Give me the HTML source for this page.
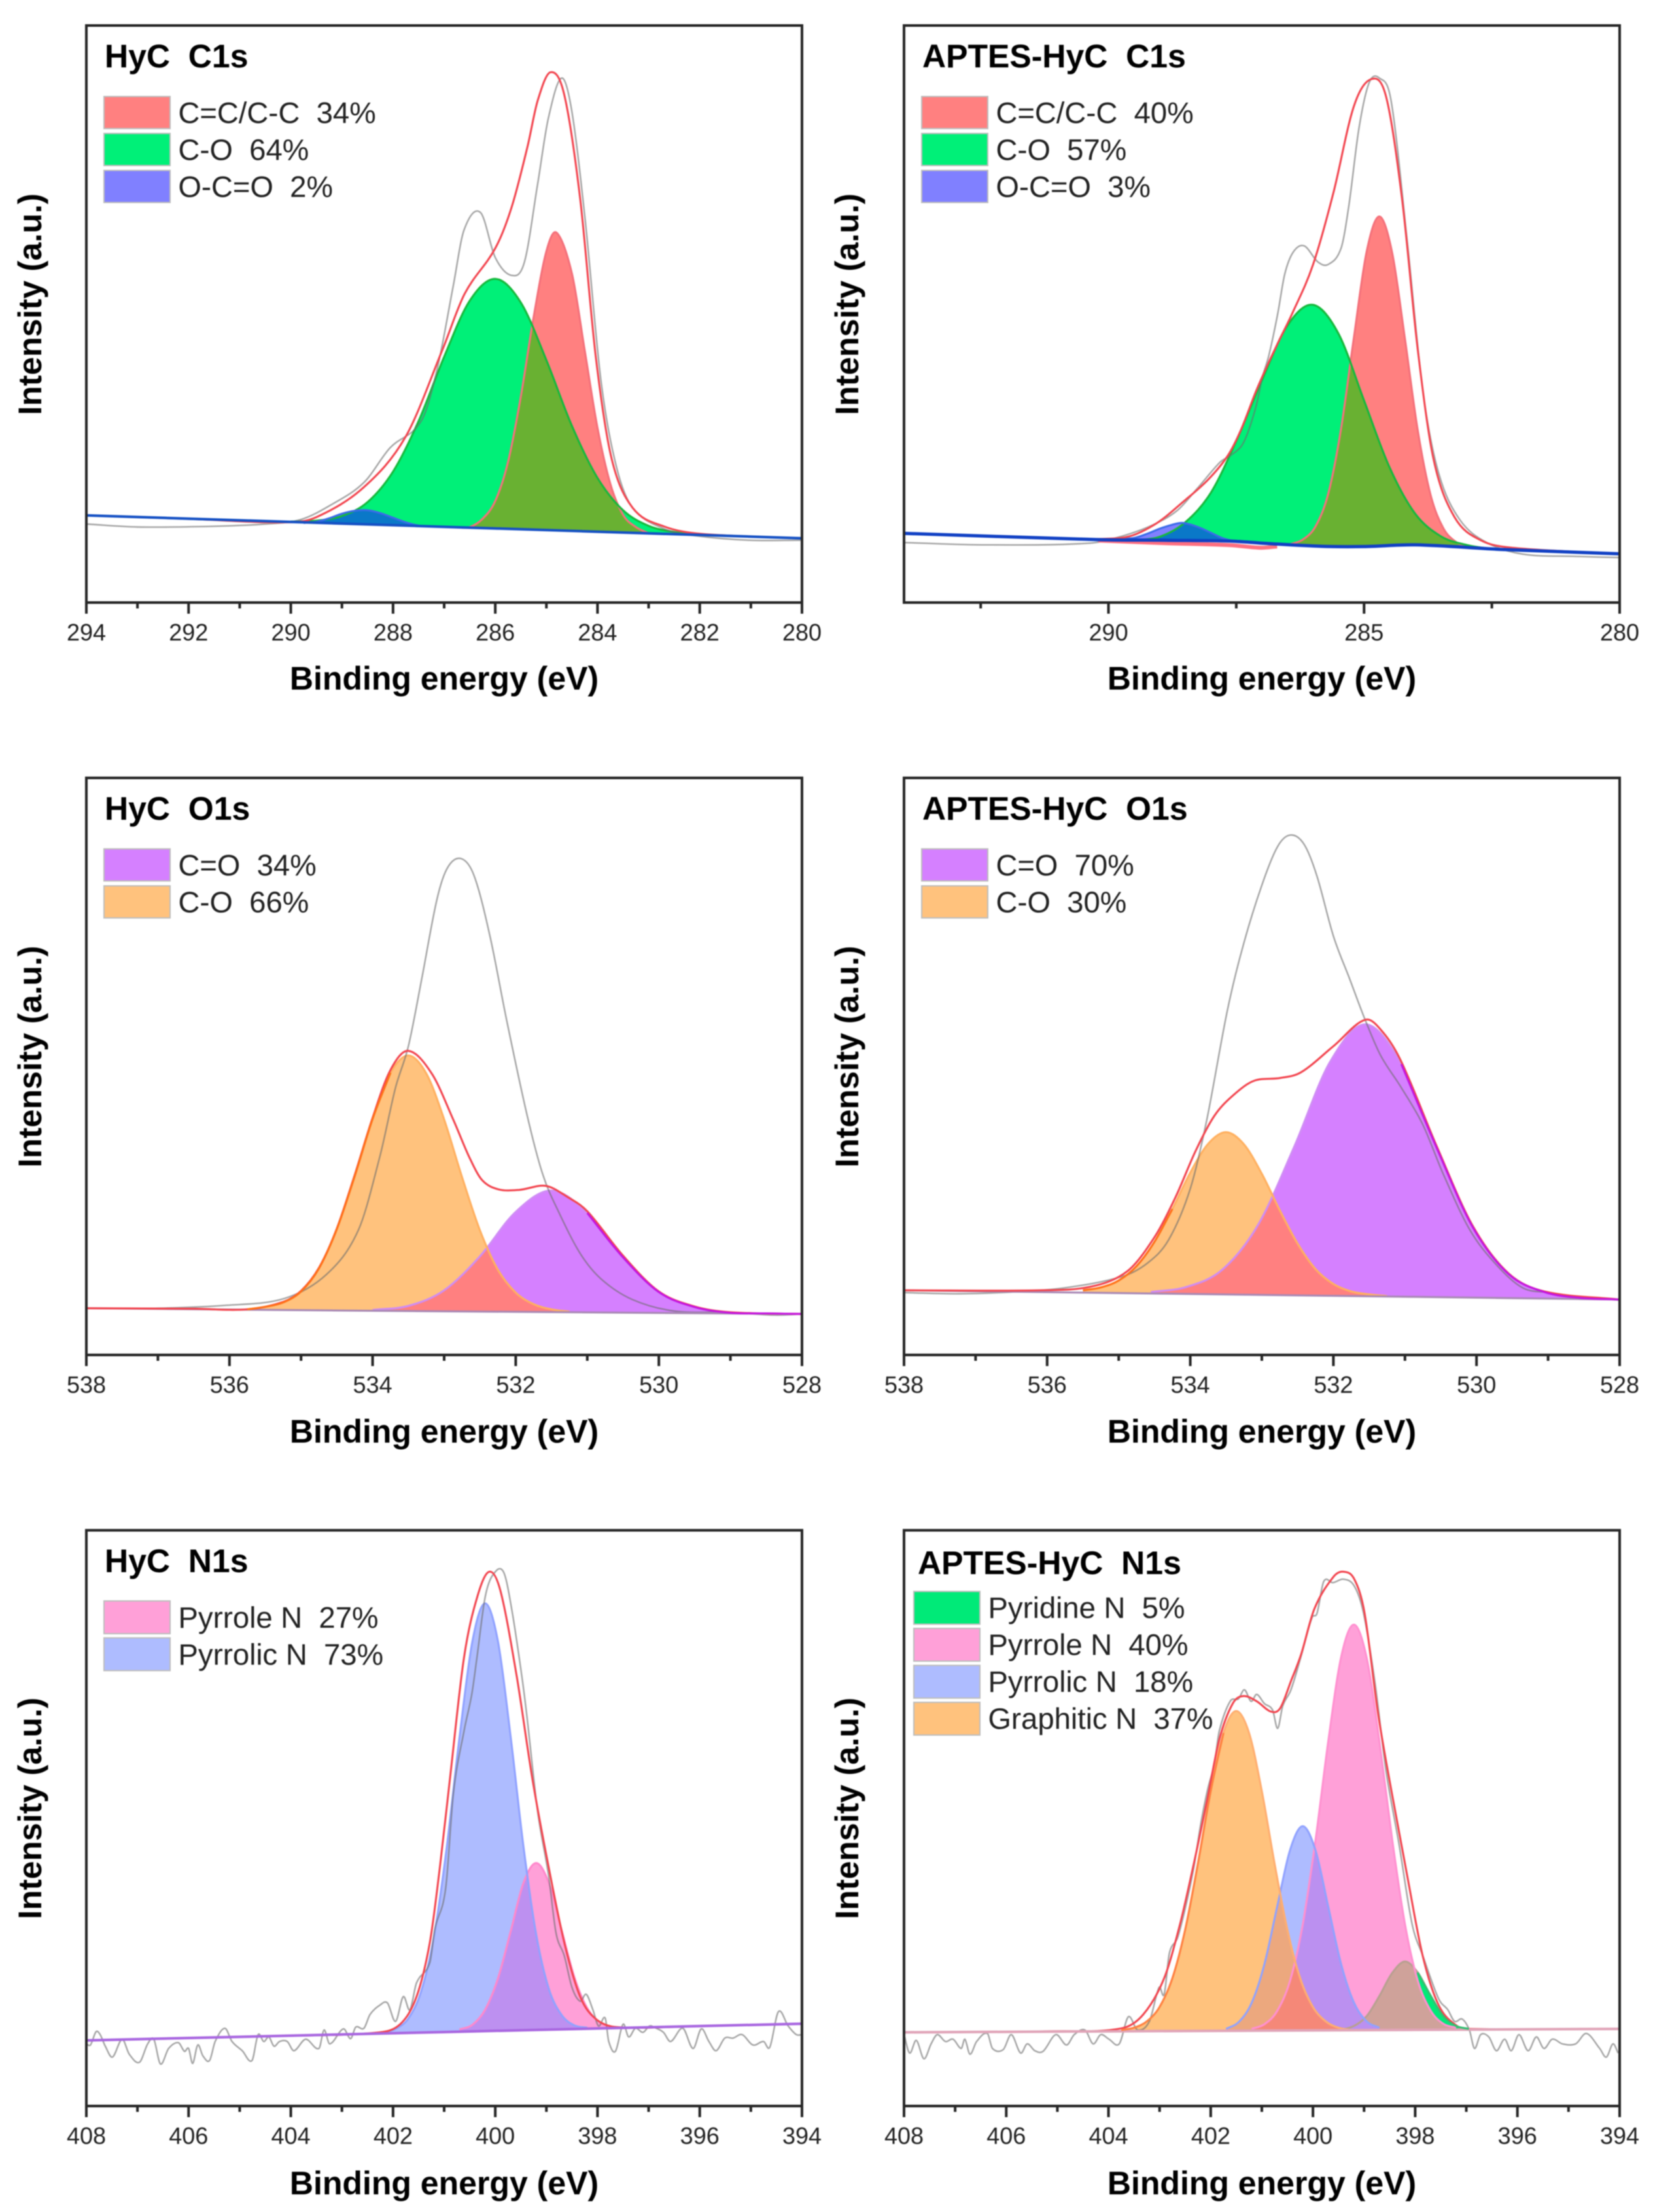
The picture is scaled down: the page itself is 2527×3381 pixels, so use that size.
<!DOCTYPE html>
<html lang="en">
<head>
<meta charset="utf-8">
<title>XPS spectra of HyC and APTES-HyC</title>
<style>
html,body{margin:0;padding:0;background:#fff;}
svg{display:block;filter:blur(0.7px);}
text{font-family:"Liberation Sans",Arial,sans-serif;fill:#1a1a1a;white-space:pre;}
.ttl{font-size:50px;font-weight:bold;fill:#000;}
.leg{font-size:45.5px;fill:#222;}
.axt{font-size:50px;font-weight:bold;fill:#000;text-anchor:middle;}
.tick{font-size:36px;fill:#222;text-anchor:middle;}
.sw{stroke:#bdbdbd;stroke-width:2;}
</style>
</head>
<body>
<svg id="figure" xmlns="http://www.w3.org/2000/svg" width="2527" height="3381" viewBox="0 0 2527 3381">
<rect width="2527" height="3381" fill="#ffffff"/>
<defs id="clip-defs"></defs>

<g id="p1"></g>
<g id="p2"></g>
<g id="p3"></g>
<g id="p4"></g>
<g id="p5"></g>
<g id="p6"></g>

<g>
<text class="ttl" x="160" y="103">HyC  C1s</text>
<rect class="sw" x="159" y="147.5" width="101" height="49" fill="#ff8080"/>
<text class="leg" x="272.5" y="188">C=C/C-C  34%</text>
<rect class="sw" x="159" y="204" width="101" height="49" fill="#00f078"/>
<text class="leg" x="272.5" y="244.5">C-O  64%</text>
<rect class="sw" x="159" y="260.5" width="101" height="49" fill="#8080ff"/>
<text class="leg" x="272.5" y="301">O-C=O  2%</text>
<text class="axt" x="679" y="1054">Binding energy (eV)</text>
<text class="axt" x="63" y="465" transform="rotate(-90 63 465)">Intensity (a.u.)</text>
</g>

<g>
<text class="ttl" x="1410" y="103">APTES-HyC  C1s</text>
<rect class="sw" x="1409" y="147.5" width="101" height="49" fill="#ff8080"/>
<text class="leg" x="1522.5" y="188">C=C/C-C  40%</text>
<rect class="sw" x="1409" y="204" width="101" height="49" fill="#00f078"/>
<text class="leg" x="1522.5" y="244.5">C-O  57%</text>
<rect class="sw" x="1409" y="260.5" width="101" height="49" fill="#8080ff"/>
<text class="leg" x="1522.5" y="301">O-C=O  3%</text>
<text class="axt" x="1929" y="1054">Binding energy (eV)</text>
<text class="axt" x="1312" y="465" transform="rotate(-90 1312 465)">Intensity (a.u.)</text>
</g>

<g>
<text class="ttl" x="160" y="1253">HyC  O1s</text>
<rect class="sw" x="159" y="1297.5" width="101" height="49" fill="#d580ff"/>
<text class="leg" x="272.5" y="1338">C=O  34%</text>
<rect class="sw" x="159" y="1354" width="101" height="49" fill="#ffc27d"/>
<text class="leg" x="272.5" y="1394.5">C-O  66%</text>
<text class="axt" x="679" y="2205">Binding energy (eV)</text>
<text class="axt" x="63" y="1615" transform="rotate(-90 63 1615)">Intensity (a.u.)</text>
</g>

<g>
<text class="ttl" x="1410" y="1253">APTES-HyC  O1s</text>
<rect class="sw" x="1409" y="1297.5" width="101" height="49" fill="#d580ff"/>
<text class="leg" x="1522.5" y="1338">C=O  70%</text>
<rect class="sw" x="1409" y="1354" width="101" height="49" fill="#ffc27d"/>
<text class="leg" x="1522.5" y="1394.5">C-O  30%</text>
<text class="axt" x="1929" y="2205">Binding energy (eV)</text>
<text class="axt" x="1312" y="1615" transform="rotate(-90 1312 1615)">Intensity (a.u.)</text>
</g>

<g>
<text class="ttl" x="160" y="2403">HyC  N1s</text>
<rect class="sw" x="159" y="2447" width="101" height="50" fill="#ffa0d8"/>
<text class="leg" x="272.5" y="2488">Pyrrole N  27%</text>
<rect class="sw" x="159" y="2503.5" width="101" height="50" fill="#aebcff"/>
<text class="leg" x="272.5" y="2544.5">Pyrrolic N  73%</text>
<text class="axt" x="679" y="3354">Binding energy (eV)</text>
<text class="axt" x="63" y="2764" transform="rotate(-90 63 2764)">Intensity (a.u.)</text>
</g>

<g>
<text class="ttl" x="1403" y="2406">APTES-HyC  N1s</text>
<rect class="sw" x="1397" y="2432.5" width="101" height="50" fill="#00ea78"/>
<text class="leg" x="1510.5" y="2473">Pyridine N  5%</text>
<rect class="sw" x="1397" y="2489" width="101" height="50" fill="#ffa0d8"/>
<text class="leg" x="1510.5" y="2529.5">Pyrrole N  40%</text>
<rect class="sw" x="1397" y="2545.5" width="101" height="50" fill="#aebcff"/>
<text class="leg" x="1510.5" y="2586">Pyrrolic N  18%</text>
<rect class="sw" x="1397" y="2602" width="101" height="50" fill="#ffc27d"/>
<text class="leg" x="1510.5" y="2642.5">Graphitic N  37%</text>
<text class="axt" x="1929" y="3354">Binding energy (eV)</text>
<text class="axt" x="1312" y="2764" transform="rotate(-90 1312 2764)">Intensity (a.u.)</text>
</g>
</svg>

<script>
/* ---------- HyC C1s ---------- */
const c1aMajor=[294,292,290,288,286,284,282,280];
const c1aMinor=[293,291,289,287,285,283,281];
const c1aBaseE=[294,280];
const c1aBaseI=[15.1,11.15];
const c1aCcE=[286.75,286.5,286.25,286,285.75,285.5,285.25,285,284.8,284.5,284.25,284,283.75,283.5,283.25,283];
const c1aCcI=[13.0,13.1,14.5,17.6,24.4,35.7,49.5,60.9,64.1,57,43.7,30.3,20.6,15.2,13.1,12.0];
const c1aCoE=[290,289.5,289,288.5,288,287.5,287,286.5,286,285.5,285,284.5,284,283.5,283,282.5,282];
const c1aCoI=[14.05,14.2,15.0,17.4,22.7,31.45,42.6,52.3,56.1,52,42,30.6,21.6,16,13.3,12.25,11.8];
const c1aOcoE=[289.75,289.5,289.25,289,288.75,288.5,288.25,288,287.75,287.5,287.25];
const c1aOcoI=[13.8,14.0,14.6,15.4,15.9,16.0,15.5,14.7,13.9,13.35,13.2];
const c1aFitE=[294,292,290.07,289.5,288.57,287.75,287.03,286.6,286,285.68,285.37,285.17,284.92,284.65,284.34,284.03,283.72,283.31,282.7,281.97,280];
const c1aFitI=[15.1,14.5,13.9,14.8,20,28.8,43.9,53.5,61.4,68.5,79,87,91.9,88,70,42.3,24.8,16.4,13.2,11.9,11.15];
const c1aRawE=[294,293,291.57,290.5,289.8,289.2,288.57,288.06,287.44,287.13,286.82,286.61,286.29,286,285.68,285.43,285.17,284.96,284.7,284.5,284.24,283.93,283.62,283.31,282.7,282.1,281.04,280];
const c1aRawI=[13.6,13.1,13.2,13.6,14.4,17,20.8,26.8,31.6,40.7,55,64.6,67.6,59.8,56.7,59,72.6,84,90.9,85,66.2,38.3,23.2,16.4,12.8,11.6,10.8,10.8];

/* ---------- APTES-HyC C1s ---------- */
const c1bMajor=[290,285,280];
const c1bMinor=[292.5,287.5,282.5];
const c1bBaseE=[294,290.19,288.9,287.63,287,285.83,285,284,282.3,280];
const c1bBaseI=[12,10.9,10.8,10.66,10.3,9.75,9.7,10,9.2,8.45];
const c1bLowerE=[290.2,288.9,287.63,287.03,286.7];
const c1bLowerI=[10.75,10.3,9.95,9.5,9.7];
const c1bCcE=[286.45,286.2,285.95,285.7,285.45,285.2,284.95,284.7,284.45,284.2,283.95,283.7,283.45,283.2,282.95];
const c1bCcI=[10.1,10.9,13.2,18.9,30.1,45.9,60.8,66.9,60.6,45.7,29.9,18.7,12.9,10.5,9.6];
const c1bCoE=[289.5,289,288.5,288,287.5,287,286.5,286,285.5,285,284.5,284,283.5,283,282.5,282];
const c1bCoI=[10.8,11.4,13.9,19,28,38.5,48,51.6,46.6,35,23.4,15.4,11.5,10,9.3,9];
const c1bOcoE=[290,289.5,289.25,289,288.75,288.55,288.25,288,287.75,287.5,287.25];
const c1bOcoI=[10.9,11.2,11.9,12.8,13.5,13.8,13.1,12.1,11.1,10.6,10.4];
const c1bFitE=[294,292,289.76,289.12,288.48,288.05,287.67,287.41,287.11,286.86,286.64,286.41,286,285.6,285.2,284.86,284.57,284.26,283.95,283.64,283.23,282.72,282.1,280];
const c1bFitI=[12,11.4,11.2,13.4,17.9,21.3,25.4,29.9,36.7,41.7,45.8,50,58.5,71,86,90.7,87.7,70.2,43.9,24.8,14.8,10.8,9.5,8.45];
const c1bRawE=[294,292.4,290.36,289.74,289.12,288.65,288.27,287.82,287.63,287.41,287.28,287.11,286.99,286.86,286.69,286.55,286.38,286.17,285.9,285.7,285.45,285.3,285.1,284.9,284.7,284.47,284.16,283.85,283.54,283.13,282.6,281.9,280.87,280];
const c1bRawI=[10.4,10,10.3,11.5,13.5,16,19.7,24.3,25.4,27,29.3,34.1,39,42.9,50,57,60.8,61.8,59,58.6,61.4,68.6,82.2,90.1,90.9,86.9,63,36.7,22.4,14.4,10.4,8.4,8,7.8];

/* ---------- HyC O1s ---------- */
const o1aMajor=[538,536,534,532,530,528];
const o1aMinor=[537,535,533,531,529];
const o1aBaseE=[538,534,528];
const o1aBaseI=[8.1,7.65,7.1];
const o1aPurpleE=[534,533.5,533,532.5,532,531.5,531,530.5,530,529.5,529,528.5,528];
const o1aPurpleI=[7.8,8.5,11.2,17.1,24.8,28.5,24.6,16.9,10.9,8.3,7.3,7.2,7.1];
const o1aOrangeE=[535.75,535.5,535.25,535,534.75,534.5,534.25,534,533.75,533.5,533.25,533,532.75,532.5,532.25,532,531.75,531.5,531.25];
const o1aOrangeI=[7.9,8.35,9.1,11,15,21.8,31,40.9,48.9,51.9,48.8,40.8,30.8,21.6,14.8,10.8,8.8,7.9,7.5];
const o1aFitE=[538,536.5,535.75,535.25,535,534.75,534.5,534.25,534,533.75,533.5,533.17,532.87,532.65,532.47,532.24,531.95,531.58,531.28,531,530.5,530,529.5,529,528];
const o1aFitI=[8.1,8,7.9,9.2,11.1,15.1,21.9,31.2,41.1,49.4,52.7,48.7,40.7,34.3,30.3,28.7,28.6,29.3,27.4,24.9,17.2,11,8.4,7.4,7.1];
const o1aRawE=[538,537,536.04,535.23,534.64,534.2,533.9,533.68,533.5,533.31,533.1,532.95,532.76,532.58,532.36,532.13,531.84,531.62,531.4,531.1,530.81,530.37,529.78,529.04,528.38,528];
const o1aRawI=[8.1,8.1,8.6,9.8,14,21.6,34.3,46.3,53.5,65.4,79,84.5,86,83,72.6,58.2,41.5,31.2,24.8,17.6,13.2,9.6,7.6,7.4,6.9,7.1];

/* ---------- APTES-HyC O1s ---------- */
const o1bMajor=[538,536,534,532,530,528];
const o1bMinor=[537,535,533,531,529];
const o1bBaseE=[538,528];
const o1bBaseI=[11.2,9.6];
const o1bPurpleE=[534.55,534.05,533.55,533.05,532.55,532.05,531.55,531.05,530.55,530.05,529.55,529.05,528.55,528];
const o1bPurpleI=[10.9,11.8,14.8,22.6,36,50.7,57.3,50.4,35.7,22.1,14,10.9,9.9,9.6];
const o1bOrangeE=[535.5,535.25,535,534.75,534.5,534.25,534,533.75,533.5,533.25,533,532.75,532.5,532.25,532,531.75,531.5,531.25];
const o1bOrangeI=[11.2,11.7,12.9,15.4,19.6,25.3,31.6,36.6,38.6,36.5,31.4,25.1,19.3,14.9,12.3,11.0,10.5,10.2];
const o1bFitE=[538,536.13,535.4,534.88,534.5,534.2,533.92,533.66,533.4,533.11,532.74,532.45,532,531.55,531.3,531.05,530.55,530.05,529.55,529.05,528];
const o1bFitI=[11.2,11.2,11.8,14.5,20.4,27.5,35.5,41.5,45,47.5,48,49,53.5,58.1,55.8,50.8,36,22.3,14.1,11,9.6];
const o1bRawE=[538,537.24,536.5,535.77,534.95,534.59,534.3,534,533.77,533.48,533.26,533,532.78,532.6,532.41,532.23,532,531.78,531.56,531.34,531.05,530.75,530.46,530.09,529.72,529.35,528.98,528.54,528];
const o1bRawI=[10.8,10.6,10.9,11.6,13.6,16,20,28.8,40.7,59.8,71,81.4,88.1,90.1,88.5,83,72.6,65.4,58.2,51.9,46.3,39.9,31.2,21.6,15.6,11.6,10.8,10,9.5];

/* ---------- HyC N1s ---------- */
const n1aMajor=[408,406,404,402,400,398,396,394];
const n1aMinor=[407,405,403,401,399,397,395];
const n1aBaseE=[408,394];
const n1aBaseI=[11.4,14.3];
const n1aPyrroleE=[400.7,400.45,400.2,399.95,399.7,399.45,399.2,398.95,398.7,398.45,398.2,397.95,397.7,397.45];
const n1aPyrroleI=[13.3,14.1,16.7,22.1,30.3,38.7,42.2,38.7,30.5,22.3,17,14.5,13.7,13.5];
const n1aPyrrolicE=[402.2,401.95,401.7,401.45,401.2,400.95,400.7,400.45,400.2,399.95,399.7,399.45,399.2,398.95,398.7,398.45,398.2];
const n1aPyrrolicI=[12.7,13.4,15.2,19.9,29.4,44.9,64,80.6,87.3,80.8,64.2,45.2,29.8,20.3,15.8,14,13.6];
const n1aFitE=[408,404,402.26,401.85,401.54,401.28,401.08,400.87,400.61,400.35,400.12,399.9,399.58,399.27,398.96,398.65,398.34,398.03,397.62,396,394];
const n1aFitI=[11.4,12.2,12.8,14.3,19,28.4,41.7,58.2,78,88.5,92.8,89.5,74.6,56.6,41.7,28.4,19,15.1,13.7,13.9,14.3];
const n1aRawE=[408,407.92,407.81,407.73,407.63,407.49,407.30,407.16,406.96,406.80,406.68,406.55,406.39,406.20,406.08,406.00,405.92,405.82,405.72,405.59,405.48,405.29,405.15,404.95,404.76,404.64,404.53,404.43,404.33,404.22,404.07,403.94,403.71,403.45,403.35,403.24,402.97,402.83,402.73,402.57,402.45,402.26,402.11,401.95,401.80,401.67,401.54,401.28,401.18,400.97,400.82,400.61,400.46,400.36,400.20,400.05,399.84,399.68,399.48,399.38,399.17,398.96,398.81,398.65,398.50,398.34,398.22,398.09,397.98,397.85,397.78,397.65,397.50,397.39,397.26,397.11,396.98,396.85,396.71,396.57,396.33,396.13,395.97,395.82,395.68,395.51,395.35,395.17,394.96,394.75,394.63,394.46,394.27,394.11,394];
const n1aRawI=[10.8,10.6,12.9,12.4,10.4,8.5,11.6,9,7.6,10.8,11.6,7.3,10,11,9.5,10,7.4,10.6,8.7,7.9,11.2,13.5,11.2,9.6,7.9,12.4,11.2,12,10.4,11.2,11.2,9.6,11.6,10,13.2,10.8,13.4,11.7,13.7,13.5,15.9,17.5,17.9,14.7,19,16.7,21.4,24.9,30.8,37.8,54.3,65.2,71.5,77.8,88.3,92.2,92.8,86.4,74.6,67.6,51.1,40.2,30,26.1,20.6,18.2,19.4,16.7,13.9,15.3,11.2,9.5,14.2,12,13.5,12.8,13.9,13.5,12.8,11.2,13.5,10,13.4,11.2,9.6,11.8,11.8,12.4,10.6,11.2,10.2,16.4,13.9,12.4,12.4];

/* ---------- APTES-HyC N1s ---------- */
const n1bMajor=[408,406,404,402,400,398,396,394];
const n1bMinor=[407,405,403,401,399,397,395];
const n1bBaseE=[408,394];
const n1bBaseI=[12.8,13.4];
const n1bGraphiticE=[403.75,403.5,403.25,403,402.75,402.5,402.25,402,401.75,401.5,401.25,401,400.75,400.5,400.25,400,399.75,399.5,399.25];
const n1bGraphiticI=[13.2,13.6,14.7,17.2,22.2,30.6,42.1,54.7,64.8,68.6,64.8,54.7,42.1,30.6,22.2,17.2,14.7,13.6,13.2];
const n1bPyrrolicE=[401.7,401.45,401.2,400.95,400.7,400.45,400.2,399.95,399.7,399.45,399.2,398.95,398.7];
const n1bPyrrolicI=[13.4,14.6,17.9,24.6,34.6,44.4,48.6,44.4,34.6,24.7,18,14.7,13.6];
const n1bPyrroleE=[401.2,400.95,400.7,400.45,400.2,399.95,399.7,399.45,399.2,398.95,398.7,398.45,398.2,397.95,397.7,397.45,397.2];
const n1bPyrroleI=[13.4,14.2,16.5,21.7,31.5,46.2,63.4,77.9,83.6,77.9,63.4,46.3,31.6,21.8,16.6,14.3,13.6];
const n1bPyridineE=[399.45,399.2,398.95,398.7,398.45,398.2,397.95,397.7,397.45,397.2,396.95];
const n1bPyridineI=[13.2,13.9,15.6,19.1,23.1,25.1,23.2,19.2,15.6,13.9,13.4];
const n1bFitE=[408,405,403.74,403.32,402.91,402.6,402.34,402.08,401.83,401.57,401.36,401.1,400.82,400.64,400.43,400.23,399.97,399.6,399.4,399.19,398.99,398.73,398.47,398.16,397.85,397.54,397.18,396.92,394];
const n1bFitI=[12.8,13,13.5,15.9,22.2,31.6,41.7,52.7,63.7,69.9,71.2,70.3,68.5,69.1,73.8,78.5,86.4,91.9,92.8,91.5,85.6,68.4,55,40.2,26,17.5,13.9,13.4,13.4];
const n1bRawE=[408,407.89,407.76,407.61,407.47,407.35,407.19,407.04,406.88,406.81,406.71,406.58,406.37,406.27,406.06,405.90,405.72,405.59,405.44,405.28,405.03,404.82,404.67,404.46,404.30,404.15,403.99,403.79,403.61,403.43,403.20,403.01,402.91,402.81,402.65,402.50,402.34,402.19,402.06,401.93,401.83,401.62,401.46,401.34,401.21,401.10,400.95,400.79,400.69,400.59,400.43,400.23,400.02,399.92,399.79,399.61,399.40,399.19,399.01,398.78,398.57,398.32,398.06,397.85,397.54,397.36,397.23,397.08,396.94,396.84,396.72,396.56,396.41,396.25,396.12,395.97,395.79,395.63,395.48,395.32,395.12,394.86,394.65,394.39,394.26,394.13,394.03];
const n1bRawI=[12.4,9.2,11.4,8.2,10.8,12.4,11.2,11.6,10,11.6,9,11.2,12.6,10,9.8,12.4,9.2,10.8,9.6,9.5,12.4,10.6,12.4,13.2,10.8,12.4,11.6,10.8,15.5,13.2,14.7,20.6,19.4,26.5,29.2,34.3,41,49.2,55,59.4,65.2,70.3,70.7,72.3,70.3,71.5,69.9,68.8,65.6,69.5,72.3,78.2,84.8,85.6,91.1,90.9,91.5,90.3,85.6,73.1,58.2,45.7,31.6,26.1,18.6,16.7,14.7,15.1,13.2,10,12.4,12,9.6,11.6,9.6,12.4,9.6,12,10,11.6,10.8,10.8,12.6,10,8.5,10.8,9.2];

/* ---------- drawing ---------- */
const NS='http://www.w3.org/2000/svg';
let clipCount=0;

function make(tag,parent,name,props){
  const el=document.createElementNS(NS,tag);
  
  
  for(const k in props){el.setAttribute(k,props[k]);}
  parent.appendChild(el);
  return el;
}
function lerp(es,is,e){
  for(let i=0;i<es.length-1;i++){
    if(e<=es[i]&&e>=es[i+1]){
      const t=(es[i]-e)/(es[i]-es[i+1]);
      return is[i]+t*(is[i+1]-is[i]);
    }
  }
  return e>es[0]?is[0]:is[is.length-1];
}
function smooth(pts){
  const n=pts.length;
  const slope=i=>{
    const a=pts[Math.max(i-1,0)],b=pts[Math.min(i+1,n-1)];
    return (b[1]-a[1])/(b[0]-a[0]);
  };
  let d='M'+pts[0][0].toFixed(1)+' '+pts[0][1].toFixed(1);
  for(let i=0;i<n-1;i++){
    const p1=pts[i],p2=pts[i+1],h=(p2[0]-p1[0])/3;
    const c1x=p1[0]+h,c1y=p1[1]+slope(i)*h;
    const c2x=p2[0]-h,c2y=p2[1]-slope(i+1)*h;
    d+=' C'+c1x.toFixed(1)+' '+c1y.toFixed(1)+' '+c2x.toFixed(1)+' '+c2y.toFixed(1)+' '+p2[0].toFixed(1)+' '+p2[1].toFixed(1);
  }
  return d;
}
function drawPanel(cfg){
  const g=document.getElementById(cfg.id);
  const L=cfg.left,R=L+1094,T=cfg.top,B=cfg.bottom;
  const xScale=e=>L+(cfg.eMax-e)/(cfg.eMax-cfg.eMin)*(R-L);
  const yScale=v=>B-v/100*(B-T);
  const pts=(es,is)=>es.map((e,i)=>[xScale(e),yScale(is[i])]);
  const area=s=>{
    let d=smooth(pts(s.e,s.i));
    const first=s.e[0],last=s.e[s.e.length-1];
    const knots=[last];
    for(let k=cfg.baseE.length-1;k>=0;k--){
      if(cfg.baseE[k]>last&&cfg.baseE[k]<first){knots.push(cfg.baseE[k]);}
    }
    knots.push(first);
    knots.forEach(e=>{d+=' L'+xScale(e).toFixed(1)+' '+yScale(lerp(cfg.baseE,cfg.baseI,e)).toFixed(1);});
    return d+' Z';
  };
  const byKey={};
  cfg.peaks.forEach(s=>{
    byKey[s.key]=s;
    make('path',g,'peak-fill-'+s.key,{d:area(s),fill:s.fill});
  });
  cfg.overlaps.forEach(o=>{
    const a=byKey[o[0]],b=byKey[o[1]];
    clipCount++;
    const id='clip'+clipCount;
    const cp=make('clipPath',document.getElementById('clip-defs'),'overlap-clip',{id:id});
    make('path',cp,'overlap-clip-shape',{d:area(a)});
    make('path',g,'peak-overlap-'+o[0]+'-'+o[1],{d:area(b),fill:o[2],'clip-path':'url(#'+id+')'});
  });
  cfg.peaks.forEach(s=>{
    make('path',g,'peak-outline-'+s.key,{d:smooth(pts(s.e,s.i)),fill:'none',stroke:s.stroke,'stroke-width':3});
  });
  make('path',g,'raw-spectrum-line',{d:smooth(pts(cfg.rawE,cfg.rawI)),fill:'none',stroke:'#6e6e6e','stroke-opacity':0.62,'stroke-width':2.4});
  const baseLine=()=>{
    if(cfg.lowerE){
      make('path',g,'background-lower-line',{d:smooth(pts(cfg.lowerE,cfg.lowerI)),fill:'none',stroke:'#ff6f80','stroke-width':6});
    }
    make('path',g,'background-line',{d:smooth(pts(cfg.baseE,cfg.baseI)),fill:'none',stroke:cfg.baseStroke,'stroke-width':cfg.baseWidth});
  };
  if(!cfg.baseOnTop){baseLine();}
  make('path',g,'fit-envelope-line',{d:smooth(pts(cfg.fitE,cfg.fitI)),fill:'none',stroke:'#f2454f','stroke-width':3});
  if(cfg.baseOnTop){baseLine();}
  cfg.peaks.forEach(s=>{
    if(!s.edge){return;}
    const keep=s.e.map((e,i)=>i).filter(i=>s.e[i]<=s.edge[0]&&s.e[i]>=s.edge[1]);
    const es=keep.map(i=>s.e[i]),is=keep.map(i=>s.i[i]);
    make('path',g,'peak-edge-'+s.key,{d:smooth(pts(es,is)),fill:'none',stroke:s.edge[2],'stroke-width':3});
  });
  make('rect',g,'plot-frame',{x:L,y:T,width:R-L,height:B-T,fill:'none',stroke:'#262626','stroke-width':4});
  cfg.major.forEach(v=>{
    make('line',g,'x-major-tick',{x1:xScale(v),x2:xScale(v),y1:B,y2:B+17,stroke:'#262626','stroke-width':4});
    const t=make('text',g,'x-tick-label',{x:xScale(v),y:B+58,class:'tick'});
    t.textContent=String(v);
  });
  cfg.minor.forEach(v=>{
    make('line',g,'x-minor-tick',{x1:xScale(v),x2:xScale(v),y1:B,y2:B+9,stroke:'#262626','stroke-width':4});
  });
}

drawPanel({id:'p1',left:132,top:39,bottom:921,eMax:294,eMin:280,major:c1aMajor,minor:c1aMinor,baseE:c1aBaseE,baseI:c1aBaseI,baseStroke:'#1450c4',baseWidth:4,baseOnTop:true,fitE:c1aFitE,fitI:c1aFitI,rawE:c1aRawE,rawI:c1aRawI,
  peaks:[
    {key:'cc',e:c1aCcE,i:c1aCcI,fill:'#ff8080',stroke:'#f4707a'},
    {key:'co',e:c1aCoE,i:c1aCoI,fill:'#00f078',stroke:'#16b83c'},
    {key:'oco',e:c1aOcoE,i:c1aOcoI,fill:'#8080ff',stroke:'#3a6ae8'}],
  overlaps:[['cc','co','#69b132'],['co','oco','#0a78c8']]});
drawPanel({id:'p2',left:1382,top:39,bottom:921,eMax:294,eMin:280,major:c1bMajor,minor:c1bMinor,baseE:c1bBaseE,baseI:c1bBaseI,lowerE:c1bLowerE,lowerI:c1bLowerI,baseStroke:'#1040c4',baseWidth:5,baseOnTop:true,fitE:c1bFitE,fitI:c1bFitI,rawE:c1bRawE,rawI:c1bRawI,
  peaks:[
    {key:'cc',e:c1bCcE,i:c1bCcI,fill:'#ff8080',stroke:'#f4707a'},
    {key:'co',e:c1bCoE,i:c1bCoI,fill:'#00f078',stroke:'#16b83c'},
    {key:'oco',e:c1bOcoE,i:c1bOcoI,fill:'#8080ff',stroke:'#3a6ae8'}],
  overlaps:[['cc','co','#69b132'],['co','oco','#0a78c8']]});
drawPanel({id:'p3',left:132,top:1189,bottom:2071,eMax:538,eMin:528,major:o1aMajor,minor:o1aMinor,baseE:o1aBaseE,baseI:o1aBaseI,baseStroke:'#a888b4',baseWidth:3,baseOnTop:false,fitE:o1aFitE,fitI:o1aFitI,rawE:o1aRawE,rawI:o1aRawI,
  peaks:[
    {key:'c-double-o',e:o1aPurpleE,i:o1aPurpleI,fill:'#d580ff',stroke:'#cf8cf5',edge:[531,528,'#c414e0']},
    {key:'co',e:o1aOrangeE,i:o1aOrangeI,fill:'#ffc27d',stroke:'#ffb060',edge:[535.75,533.75,'#ff7018']}],
  overlaps:[['c-double-o','co','#ff8080']]});
drawPanel({id:'p4',left:1382,top:1189,bottom:2071,eMax:538,eMin:528,major:o1bMajor,minor:o1bMinor,baseE:o1bBaseE,baseI:o1bBaseI,baseStroke:'#a888b4',baseWidth:3,baseOnTop:false,fitE:o1bFitE,fitI:o1bFitI,rawE:o1bRawE,rawI:o1bRawI,
  peaks:[
    {key:'c-double-o',e:o1bPurpleE,i:o1bPurpleI,fill:'#d580ff',stroke:'#cf8cf5',edge:[531.05,528,'#c414e0']},
    {key:'co',e:o1bOrangeE,i:o1bOrangeI,fill:'#ffc27d',stroke:'#ffb060',edge:[535.5,534.25,'#ff7018']}],
  overlaps:[['c-double-o','co','#ff8080']]});
drawPanel({id:'p5',left:132,top:2339,bottom:3219,eMax:408,eMin:394,major:n1aMajor,minor:n1aMinor,baseE:n1aBaseE,baseI:n1aBaseI,baseStroke:'#a866e0',baseWidth:4,baseOnTop:true,fitE:n1aFitE,fitI:n1aFitI,rawE:n1aRawE,rawI:n1aRawI,
  peaks:[
    {key:'pyrrole',e:n1aPyrroleE,i:n1aPyrroleI,fill:'#ffa0d8',stroke:'#ff88cc'},
    {key:'pyrrolic',e:n1aPyrrolicE,i:n1aPyrrolicI,fill:'#aebcff',stroke:'#90a2ff'}],
  overlaps:[['pyrrole','pyrrolic','#bd90f0']]});
drawPanel({id:'p6',left:1382,top:2339,bottom:3219,eMax:408,eMin:394,major:n1bMajor,minor:n1bMinor,baseE:n1bBaseE,baseI:n1bBaseI,baseStroke:'#e0a4b8',baseWidth:4,baseOnTop:true,fitE:n1bFitE,fitI:n1bFitI,rawE:n1bRawE,rawI:n1bRawI,
  peaks:[
    {key:'pyridine',e:n1bPyridineE,i:n1bPyridineI,fill:'#00ea78',stroke:'#b8a090',edge:[397.95,396.95,'#30c070']},
    {key:'pyrrole',e:n1bPyrroleE,i:n1bPyrroleI,fill:'#ffa0d8',stroke:'#ff90d0'},
    {key:'pyrrolic',e:n1bPyrrolicE,i:n1bPyrrolicI,fill:'#aebcff',stroke:'#90a2ff'},
    {key:'graphitic',e:n1bGraphiticE,i:n1bGraphiticI,fill:'#ffc27d',stroke:'#ffae70',edge:[403.75,401.75,'#ff8040']}],
  overlaps:[['pyrrole','pyridine','#cfa29a'],['pyrrolic','pyrrole','#bb90f0'],['graphitic','pyrrolic','#eca87e'],['graphitic','pyrrole','#f58878']]});
</script>
</body>
</html>
